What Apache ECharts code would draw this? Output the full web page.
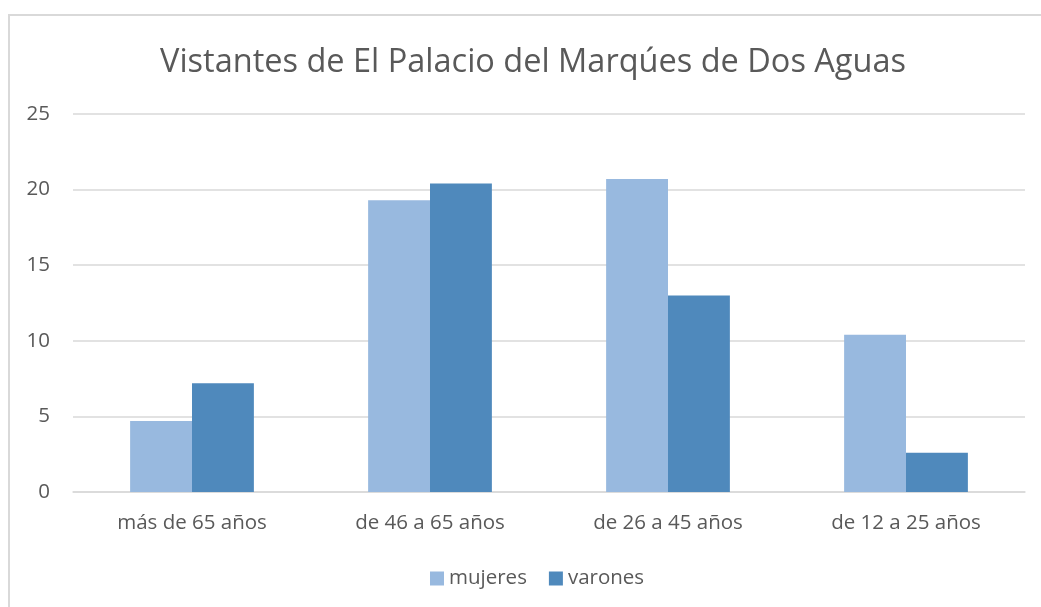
<!DOCTYPE html>
<html><head><meta charset="utf-8">
<script src="https://cdn.jsdelivr.net/npm/echarts@6/dist/echarts.min.js"></script>
<style>html,body{margin:0;padding:0;background:#fff}#c{width:1041px;height:607px}</style>
</head><body><div id="c"></div>
<script>
const categories = ['más de 65 años', 'de 46 a 65 años', 'de 26 a 45 años', 'de 12 a 25 años'];
const mujeres = [4.7, 19.3, 20.7, 10.4];
const varones = [7.2, 20.4, 13.0, 2.6];
const seriesNames = ['mujeres', 'varones'];
const titleText = 'Vistantes de El Palacio del Marqúes de Dos Aguas';

const chart = echarts.init(document.getElementById('c'), null, {renderer: 'canvas'});
const font = 'Open Sans';
chart.setOption({
  animation: false,
  graphic: [{type: 'rect', shape: {x: 9, y: 15, width: 1100, height: 700}, style: {fill: 'none', stroke: '#d9d9d9', lineWidth: 2}}],
  title: {text: titleText, left: 155, top: 41, textStyle: {fontFamily: font, fontSize: 32.5, fontWeight: 'normal', color: '#595959'}},
  legend: {data: seriesNames, bottom: 13, left: 425, itemWidth: 14, itemHeight: 14, itemGap: 22, icon: 'rect',
    textStyle: {fontFamily: font, fontSize: 20.5, color: '#595959'}},
  grid: {left: 73, right: 16, top: 114, bottom: 115, containLabel: false},
  xAxis: {type: 'category', data: categories, axisTick: {show: false},
    axisLine: {lineStyle: {color: '#d9d9d9', width: 1.5}},
    axisLabel: {fontFamily: font, fontSize: 20.5, color: '#595959', margin: 21}},
  yAxis: {type: 'value', min: 0, max: 25, interval: 5, axisLine: {show: false}, axisTick: {show: false},
    splitLine: {lineStyle: {color: '#d9d9d9', width: 1.5}},
    axisLabel: {fontFamily: font, fontSize: 20.5, color: '#595959', margin: 23}},
  series: [
    {name: seriesNames[0], type: 'bar', data: mujeres, barWidth: '26%', barGap: '0%', itemStyle: {color: '#98B9DF'}},
    {name: seriesNames[1], type: 'bar', data: varones, barWidth: '26%', barGap: '0%', itemStyle: {color: '#4F89BC'}}
  ]
});
</script></body></html>
